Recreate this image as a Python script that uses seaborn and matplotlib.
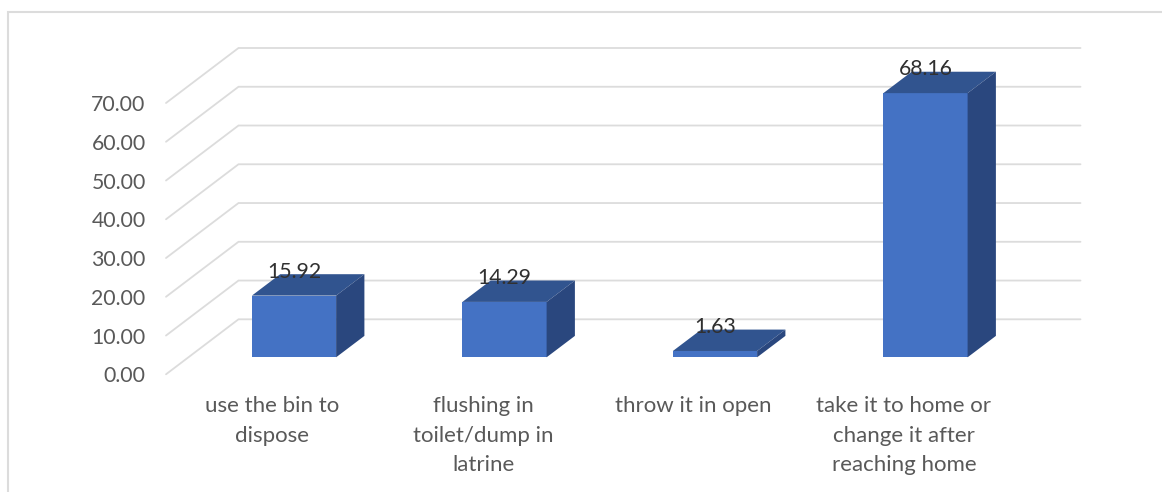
import matplotlib
matplotlib.use("Agg")
import matplotlib.pyplot as plt
from matplotlib.lines import Line2D
from matplotlib.patches import Polygon
from matplotlib.transforms import ScaledTranslation
import seaborn as sns

categories = [
    "use the bin to\ndispose",
    "flushing in\ntoilet/dump in\nlatrine",
    "throw it in open",
    "take it to home or\nchange it after\nreaching home",
]
values = [15.92, 14.29, 1.63, 68.16]
value_ticks = [0, 10, 20, 30, 40, 50, 60, 70]

FRONT = "#4472C4"
TOP = "#31548F"
SIDE = "#2A477E"
GRID = "#DCDCDC"
TICK_TEXT = "#595959"
VALUE_TEXT = "#303030"

sns.set_style("white")
plt.rcParams["font.family"] = ["Lato", "DejaVu Sans"]

W, H, DPI = 1162, 492, 100
fig = plt.figure(figsize=(W / DPI, H / DPI), dpi=DPI)

# The axes rectangle is the plane holding the bars' front faces.
left, right, base, top = 188.75, 1030.75, 357.3, 86.0
ax = fig.add_axes([left / W, 1 - base / H, (right - left) / W, (base - top) / H])

sns.barplot(x=categories, y=values, ax=ax, color=FRONT, saturation=1,
            width=0.4, zorder=3, linewidth=0)
ax.set_xlim(-0.5, 3.5)
ax.set_ylim(0, 70)
sns.despine(ax=ax, left=True, bottom=True)

px_x = (len(categories)) / (right - left)      # category units per pixel
px_y = 70 / (base - top)                       # value units per pixel

# Floor diagonals and back-wall gridlines of the oblique projection.
wall_dx, wall_dy = 49.75 * px_x, 38.0 * px_y
front_dx, front_dy = -22.75 * px_x, -17.0 * px_y
for v in value_ticks:
    ax.plot([-0.5 + front_dx, -0.5 + wall_dx, 3.5 + wall_dx],
            [v + front_dy, v + wall_dy, v + wall_dy],
            color=GRID, lw=1.3, clip_on=False, zorder=1,
            solid_joinstyle="miter")

# Extrude each bar into depth with a top and a side face.
depth_x, depth_y = 28.3 * px_x, 21.4 * px_y
for bar in ax.containers[0]:
    x0, x1 = bar.get_x(), bar.get_x() + bar.get_width()
    h = bar.get_height()
    ax.add_patch(Polygon([(x0, h), (x1, h), (x1 + depth_x, h + depth_y), (x0 + depth_x, h + depth_y)],
                         closed=True, facecolor=TOP, edgecolor="none", clip_on=False, zorder=3))
    ax.add_patch(Polygon([(x1, 0), (x1 + depth_x, depth_y), (x1 + depth_x, h + depth_y), (x1, h)],
                         closed=True, facecolor=SIDE, edgecolor="none", clip_on=False, zorder=3))

# Value labels above the front edge of each bar.
labels = ax.bar_label(ax.containers[0], fmt="%.2f", padding=10, fontsize=15.3,
                      color=VALUE_TEXT, zorder=5)

# Tick labels sit with the projected front edge, not the bar plane.
ax.set_yticks(value_ticks)
ax.set_yticklabels([f"{v:.2f}" for v in value_ticks])
ax.tick_params(axis="y", length=0, pad=31, labelsize=15.3, labelcolor=TICK_TEXT)
ax.tick_params(axis="x", length=0, pad=28, labelsize=16, labelcolor=TICK_TEXT)
down = ScaledTranslation(0, -17.0 / DPI, fig.dpi_scale_trans)
shift = ScaledTranslation(-21.5 / DPI, 0, fig.dpi_scale_trans)
for t in ax.get_yticklabels():
    t.set_transform(t.get_transform() + down)
for t in ax.get_xticklabels():
    t.set_transform(t.get_transform() + shift)
    t.set_linespacing(1.6)

# Thin frame along the top and left of the canvas.
fig.add_artist(Line2D([8 / W, 8 / W, 1], [0, 1 - 12 / H, 1 - 12 / H],
                      color=GRID, lw=1.5, solid_joinstyle="miter"))

fig.savefig("out.png", dpi=DPI)
